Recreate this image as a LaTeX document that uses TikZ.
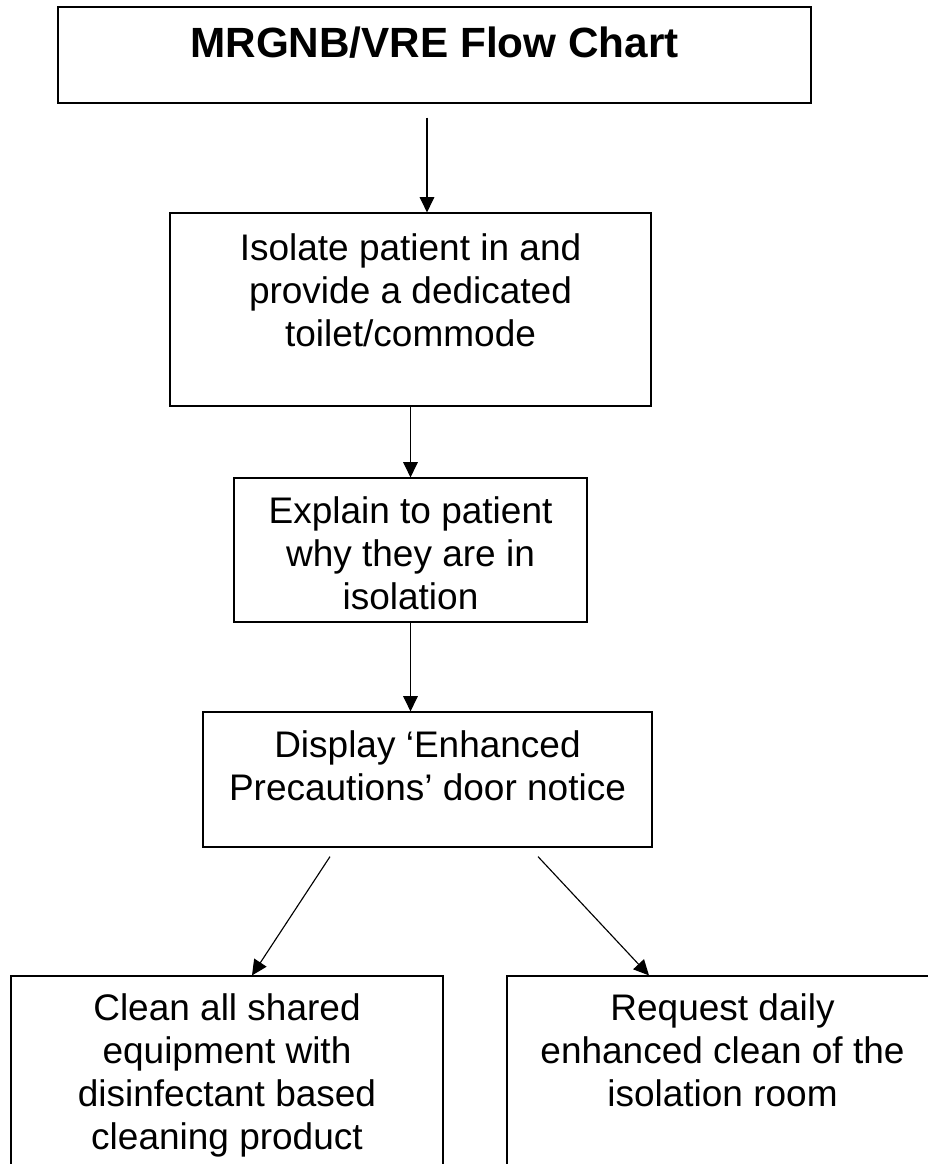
\documentclass[tikz,border=0pt]{standalone}
\usepackage{fontspec}
\setmainfont{Liberation Sans}
\usetikzlibrary{arrows.meta}
\tikzset{
	box/.style={draw,line width=0.9pt,rectangle,inner sep=0pt},
	txt/.style={align=center,inner sep=0pt,anchor=north,font=\fontsize{27.75}{32.25}\selectfont},
	arr/.style={line width=0.85pt,-{Triangle[length=11.5pt,width=11pt]}}
}
\begin{document}
\begin{tikzpicture}[x=0.75pt,y=-0.75pt]
	\useasboundingbox (0,0) rectangle (928,1164);
	\clip (0,0) rectangle (928,1164);
	\node[box,minimum width=564.75pt,minimum height=72pt] (title) at (434.5,55) {};
	\node[inner sep=0pt,anchor=base,font=\fontsize{31.7}{36}\selectfont\bfseries] (titletxt) at (434.5,57) {MRGNB/VRE Flow Chart};
	\node[box,minimum width=360.75pt,minimum height=144.75pt] (isolate) at (410.5,309.5) {};
	\node[txt] (isolatetxt) at (410.5,233.5) {Isolate patient in and\\provide a dedicated\\toilet/commode};
	\node[box,minimum width=264.75pt,minimum height=108pt] (explain) at (410.5,550) {};
	\node[txt] (explaintxt) at (410.5,496.5) {Explain to patient\\why they are in\\isolation};
	\node[box,minimum width=336.75pt,minimum height=101.25pt] (display) at (427.5,779.5) {};
	\node[txt] (displaytxt) at (427.5,730.5) {Display `Enhanced\\Precautions' door notice};
	\node[box,minimum width=324pt,minimum height=160.5pt] (clean) at (227,1083) {};
	\node[txt] (cleantxt) at (227,993.5) {Clean all shared\\equipment with\\disinfectant based\\cleaning product};
	\node[box,minimum width=323.25pt,minimum height=160.5pt] (request) at (722.5,1083) {};
	\node[txt] (requesttxt) at (722.5,993.5) {Request daily\\enhanced clean of the\\isolation room};
	\draw[arr] ([shift={(-7.5,14)}]title.south) -- ([shift={(16.5,0)}]isolate.north);
	\draw[arr] (isolate.south) -- (explain.north);
	\draw[arr] (explain.south) -- (explain.south |- display.north);
	\draw[arr] ([shift={(-97.5,9)}]display.south) -- ([shift={(25,0)}]clean.north);
	\draw[arr] ([shift={(110.5,9)}]display.south) -- ([shift={(-73.5,0)}]request.north);
\end{tikzpicture}
\end{document}
